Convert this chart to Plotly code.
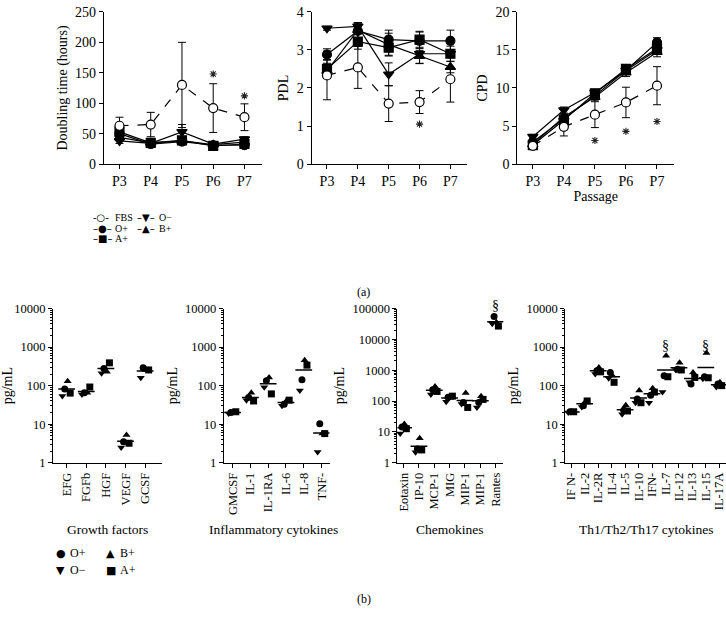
import numpy as np
import plotly.graph_objects as go

# ---------------- data: growth kinetics (a) ----------------
passages = ["P3", "P4", "P5", "P6", "P7"]
groups = ["O+", "A+", "O−", "B+", "FBS"]

doubling = {
    "FBS": [63, 65, 130, 92, 77],
    "O+": [50, 33, 37, 31, 31],
    "A+": [53, 35, 39, 30, 33],
    "O−": [38, 34, 53, 33, 41],
    "B+": [44, 35, 38, 32, 36],
}
doubling_err = {
    "FBS": [14, 20, 70, 40, 22],
    "O+": [6, 3, 3, 2, 2],
    "A+": [6, 3, 3, 2, 2],
    "O−": [4, 3, 12, 3, 4],
    "B+": [5, 3, 3, 2, 3],
}
pdl = {
    "FBS": [2.33, 2.54, 1.59, 1.63, 2.23],
    "O+": [2.88, 3.50, 3.27, 3.24, 3.24],
    "A+": [2.50, 3.22, 3.06, 3.27, 2.90],
    "O−": [3.57, 3.62, 2.36, 2.90, 2.90],
    "B+": [2.45, 3.52, 3.14, 2.84, 2.55],
}
pdl_err = {
    "FBS": [0.64, 0.55, 0.47, 0.30, 0.60],
    "O+": [0.15, 0.20, 0.25, 0.25, 0.28],
    "A+": [0.25, 0.20, 0.20, 0.20, 0.10],
    "O−": [0.05, 0.10, 0.30, 0.25, 0.20],
    "B+": [0.20, 0.20, 0.30, 0.20, 0.15],
}
cpd = {
    "FBS": [2.4, 4.9, 6.5, 8.1, 10.3],
    "O+": [2.9, 6.0, 9.0, 12.3, 16.0],
    "A+": [2.5, 5.8, 9.3, 12.5, 15.2],
    "O−": [3.6, 7.1, 9.4, 12.3, 15.0],
    "B+": [2.6, 6.2, 8.8, 12.0, 14.7],
}
cpd_err = {
    "FBS": [0.4, 1.2, 1.7, 2.0, 2.5],
    "O+": [0.3, 0.4, 0.4, 0.5, 0.6],
    "A+": [0.3, 0.4, 0.4, 0.5, 0.6],
    "O−": [0.3, 0.4, 0.4, 0.5, 0.6],
    "B+": [0.3, 0.4, 0.4, 0.5, 0.6],
}
# significance stars (passage, height)
stars_doubling = (["P6", "P7"], [148, 112])
stars_pdl = (["P6"], [1.05])
stars_cpd = (["P5", "P6", "P7"], [3.1, 4.3, 5.6])

# ---------------- data: cytokines (b) ----------------
donors = ["O+", "O−", "B+", "A+"]

growth_cats = ["EFG", "FGFb", "HGF", "VEGF", "GCSF"]
growth = {
    "O+": [82, 65, 280, 3.5, 290],
    "O−": [54, 59, 210, 2.5, 160],
    "B+": [129, 65, 230, 5.2, 255],
    "A+": [64, 92, 390, 3.2, 255],
}
inflam_cats = ["GMCSF", "IL-1", "IL-1RA", "IL-6", "IL-8", "TNF-"]
inflam = {
    "O+": [20, 49, 134, 33, 142, 10.3],
    "O−": [19, 42, 91, 30, 75, 1.9],
    "B+": [20, 65, 162, 42, 455, 5.7],
    "A+": [21, 40, 61, 42, 340, 5.7],
}
chemo_cats = ["Eotaxin", "IP-10", "MCP-1", "MIG", "MIP-1", "MIP-1", "Rantes"]
chemo = {
    "O+": [14.4, 2.8, 233, 134, 90, 89, 55000],
    "O−": [8.9, 2.2, 163, 95, 80, 62, 32000],
    "B+": [18, 6.2, 297, 128, 183, 144, 36000],
    "A+": [12.7, 2.6, 205, 144, 62, 113, 27000],
}
th_cats = ["IF N-", "IL-2", "IL-2R", "IL-4", "IL-5", "IL-10", "IFN-",
           "IL-7", "IL-12", "IL-13", "IL-15", "IL-17A"]
th = {
    "O+": [21, 30, 244, 219, 23, 45, 56, 180, 266, 110, 170, 110],
    "O−": [20, 28, 200, 155, 18, 36, 36, 68, 255, 122, 150, 92],
    "B+": [21, 38, 295, 182, 31, 75, 86, 600, 395, 220, 700, 122],
    "A+": [21, 40, 228, 122, 22, 36, 68, 170, 255, 163, 160, 100],
}
# § marks (category index, height)
sect_chemo = ([6], [150000])
sect_th = ([7, 10], [1300, 1300])

log_ticks = [1, 10, 100, 1000, 10000, 100000]

# ---------------- styles ----------------
FONT = "Liberation Serif"
sym = {"O+": "circle", "A+": "square", "O−": "triangle-down",
       "B+": "triangle-up", "FBS": "circle-open"}
offs = {"O−": -0.22, "O+": -0.1, "B+": 0.05, "A+": 0.18}

fig = go.Figure()
ann = []

# ---------- top panels ----------
top = [("x", "y", doubling, doubling_err, stars_doubling),
       ("x2", "y2", pdl, pdl_err, stars_pdl),
       ("x3", "y3", cpd, cpd_err, stars_cpd)]
for xa, ya, vals, errs, stars in top:
    for g in groups:
        fbs = g == "FBS"
        fig.add_trace(go.Scatter(
            x=passages, y=vals[g], xaxis=xa, yaxis=ya,
            mode="lines+markers", showlegend=False,
            line=dict(color="black", width=1.2, dash="dash" if fbs else "solid"),
            marker=dict(symbol="circle" if fbs else sym[g], size=9,
                        color="white" if fbs else "black",
                        line=dict(color="black", width=1.2)),
            error_y=dict(type="data", array=errs[g], color="black",
                         thickness=1, width=4),
        ))
    # asterisks
    fig.add_trace(go.Scatter(
        x=stars[0], y=stars[1], xaxis=xa, yaxis=ya, mode="markers",
        showlegend=False,
        marker=dict(symbol="asterisk-open", size=6, color="#222222",
                    line=dict(color="#222222", width=1.1)),
    ))

# ---------- bottom panels ----------
bottom = [("x4", "y4", growth_cats, growth, None),
          ("x5", "y5", inflam_cats, inflam, None),
          ("x6", "y6", chemo_cats, chemo, sect_chemo),
          ("x7", "y7", th_cats, th, sect_th)]
bot_top = [4, 4, 5, 4]
for j, (xa, ya, cats, vals, sect) in enumerate(bottom):
    idx = np.arange(len(cats))
    for d in donors:
        fig.add_trace(go.Scatter(
            x=idx + offs[d], y=vals[d], xaxis=xa, yaxis=ya, mode="markers",
            showlegend=False, cliponaxis=False,
            marker=dict(symbol=sym[d], size=7, color="black"),
        ))
    means = np.mean([vals[d] for d in donors], axis=0)
    fig.add_trace(go.Scatter(
        x=idx, y=means, xaxis=xa, yaxis=ya, mode="markers", showlegend=False,
        marker=dict(symbol="line-ew", size=12,
                    line=dict(color="black", width=1.5)),
    ))
    if sect:
        for sx, sy in zip(*sect):
            ann.append(dict(x=sx, y=np.log10(sy) / bot_top[j], xref=xa,
                            yref=ya + " domain", text="§", showarrow=False,
                            yshift=7,
                            font=dict(family=FONT, size=14, color="black")))

# ---------- axes ----------
W, H = 726, 621
def px_x(a, b):
    return [a / W, b / W]
def px_y(top_px, bot_px):
    return [1 - bot_px / H, 1 - top_px / H]

axis_common = dict(showline=True, linecolor="black", linewidth=1,
                   ticks="outside", ticklen=4, tickcolor="black",
                   showgrid=False, zeroline=False,
                   tickfont=dict(family=FONT, size=14, color="black"))

lay = {}
top_x = [(103, 261), (311, 467), (517, 674)]
top_y = [(0, 250, 50, "Doubling time (hours)"), (0, 4, 1, "PDL"), (0, 20, 5, "CPD")]
for i in range(3):
    s = "" if i == 0 else str(i + 1)
    lay["xaxis" + s] = dict(axis_common, domain=px_x(*top_x[i]), anchor="y" + s,
                            type="category", range=[-0.5, 4.55])
    lo, hi, dt, title = top_y[i]
    lay["yaxis" + s] = dict(axis_common, domain=px_y(5, 161), anchor="x" + s,
                            range=[lo, hi], dtick=dt,
                            title=dict(text=title, standoff=4,
                                       font=dict(family=FONT, size=14, color="black")))
lay["xaxis3"]["title"] = dict(text="Passage", standoff=0,
                              font=dict(family=FONT, size=14, color="black"))

bot_x = [(52, 161, -0.7, 4.85), (223, 329, -0.5, 5.45),
         (397, 503, -0.4, 6.5), (565, 726, -0.45, 11.5)]
for j, (xa, ya, cats, vals, sect) in enumerate(bottom):
    n = xa[1:]
    a, b, r0, r1 = bot_x[j]
    tv = log_ticks[:bot_top[j] + 1]
    lay["xaxis" + n] = dict(axis_common, domain=px_x(a, b), anchor="y" + n,
                            range=[r0, r1], tickvals=list(range(len(cats))),
                            ticktext=cats, tickangle=-90, ticklabeloverflow="allow",
                            tickfont=dict(family=FONT, size=12.5, color="black"))
    lay["yaxis" + n] = dict(axis_common, domain=px_y(309, 467), anchor="x" + n,
                            type="log", range=[0, bot_top[j]],
                            tickvals=tv, ticktext=[str(v) for v in tv],
                            tickfont=dict(family=FONT, size=12.5, color="black"),
                            minor=dict(ticks="outside", ticklen=2, tickcolor="black",
                                       dtick="D1", showgrid=False),
                            title=dict(text="pg/mL", standoff=4,
                                       font=dict(family=FONT, size=14, color="black")))

# ---------- annotations: group titles, panel labels, legends ----------
def txt(x, y, s, size=13, xanchor="center"):
    ann.append(dict(x=x / W, y=1 - y / H, xref="paper", yref="paper", text=s,
                    showarrow=False, xanchor=xanchor, yanchor="middle",
                    font=dict(family=FONT, size=size, color="black")))

for name, cx in [("Growth factors", 107), ("Inflammatory cytokines", 273),
                 ("Chemokines", 450), ("Th1/Th2/Th17 cytokines", 646)]:
    txt(cx, 535, name, 13.5)
txt(363, 292, "(a)", 12)
txt(363, 607, "(b)", 12)

# top legend
leg_top = [("-○-", "FBS", 90, 216), ("–●–", "O+", 90, 227), ("–■–", "A+", 90, 237),
           ("–▼–", "O−", 134, 216), ("–▲–", "B+", 134, 227)]
for symb, lab, x0, y0 in leg_top:
    ann.append(dict(x=x0 / W, y=1 - y0 / H, xref="paper", yref="paper", text=symb,
                    showarrow=False, xanchor="left", yanchor="middle",
                    font=dict(family="DejaVu Sans", size=10, color="black")))
    txt(x0 + 22, y0, lab, 10, "left")

# bottom legend
leg_bot = [("●", "O+", 53, 560), ("▲", "B+", 103, 560),
           ("▼", "O−", 53, 577), ("■", "A+", 103, 577)]
for symb, lab, x0, y0 in leg_bot:
    ann.append(dict(x=x0 / W, y=1 - y0 / H, xref="paper", yref="paper", text=symb,
                    showarrow=False, xanchor="left", yanchor="middle",
                    font=dict(family="DejaVu Sans", size=11, color="black")))
    txt(x0 + 14, y0, lab, 12, "left")

fig.update_layout(
    width=W, height=H, margin=dict(l=0, r=0, t=0, b=0),
    paper_bgcolor="white", plot_bgcolor="white",
    showlegend=False, annotations=ann,
    font=dict(family=FONT, color="black"),
    **lay,
)

fig.write_html("out.html", config={"displayModeBar": False},
               post_script="document.body.style.margin='0px';")
